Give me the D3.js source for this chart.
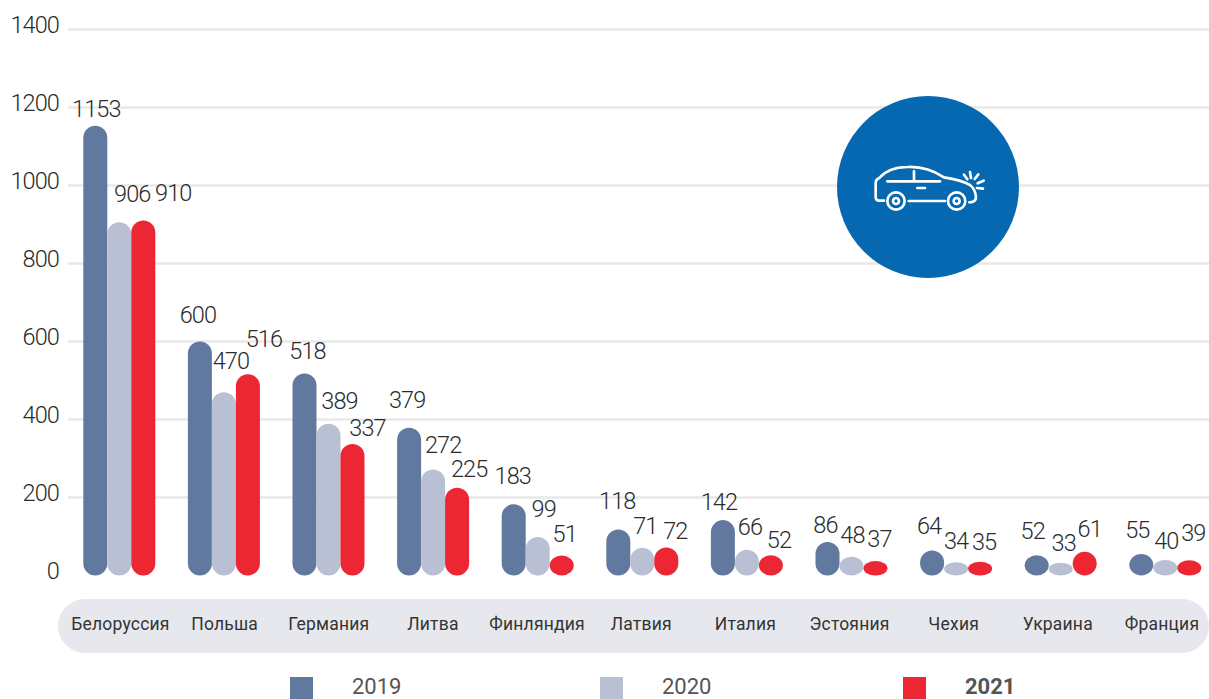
<!DOCTYPE html>
<html><head><meta charset="utf-8">
<script src="https://cdn.jsdelivr.net/npm/d3@7/dist/d3.min.js"></script>
<style>
html,body{margin:0;padding:0;background:#fff;overflow:hidden}
text{font-family:Roboto,sans-serif}
.num{font-size:23.5px;letter-spacing:-.9px;fill:#2b2b2b;font-weight:300}
.cat{font-size:17.5px;fill:#333;letter-spacing:.2px;font-weight:400}
.leg{font-size:22px;fill:#555;letter-spacing:0}
</style></head><body><svg id="c" width="1209" height="699"></svg>
<script>
const categories=["Белоруссия","Польша","Германия","Литва","Финляндия","Латвия","Италия","Эстояния","Чехия","Украина","Франция"];
const years=["2019","2020","2021"];
const v2019=[1153,600,518,379,183,118,142,86,64,52,55];
const v2020=[906,470,389,272,99,71,66,48,34,33,40];
const v2021=[910,516,337,225,51,72,52,37,35,61,39];
const yTicks=[0,200,400,600,800,1000,1200,1400];
const colors=["#61799f","#b9c0d4","#ec2632"];
// hand placement of the value labels relative to the top-centre of each bar
const nudge2019=[[1,-17],[-2,-27],[3,-22],[-2,-28],[-1,-28],[-1,-28],[-4,-18],[-2,-17],[-3,-25],[-4,-24],[-4,-24]];
const nudge2020=[[13,-28],[7,-31],[11,-23],[10,-24],[6,-28],[3,-22],[3,-23],[1,-22],[0,-21],[3,-20],[1,-19]];
const nudge2021=[[30,-28],[16,-35],[15,-16],[12,-19],[3,-22],[9,-16],[8,-15],[4,-22],[4,-20],[5,-23],[4,-27]];

const series=[v2019,v2020,v2021], nudges=[nudge2019,nudge2020,nudge2021];
const svg=d3.select("#c");
const y=d3.scaleLinear().domain([0,1400]).range([575.5,29.5]);
const x0=d3.scaleBand().domain(categories).range([67,1217.6]);
const x1=d3.scaleBand().domain(years).range([x0.bandwidth()/2-36,x0.bandwidth()/2+36]);
const xCat=d3.scalePoint().domain(categories).range([120.5,1162]);

// y axis + grid
const axis=svg.append("g").attr("transform","translate(68,0)")
  .call(d3.axisLeft(y).tickValues(yTicks).tickFormat(d3.format("d")).tickSize(0).tickPadding(9));
axis.select(".domain").remove();
axis.selectAll("text").attr("class","num").attr("font-family",null).attr("font-size",null).attr("dy",null)
  .attr("dominant-baseline","central").attr("y",-5);
svg.append("g").selectAll("line").data(yTicks.slice(1)).join("line")
  .attr("x1",68).attr("x2",1209).attr("y1",y).attr("y2",y)
  .attr("stroke","#e8e8e8").attr("stroke-width",2.6);

// icon
const icon=svg.append("g");
icon.append("circle").attr("cx",928).attr("cy",187).attr("r",91).attr("fill","#0568b0");
const car=icon.append("g").attr("transform","translate(820,90) scale(.3333)")
  .attr("fill","none").attr("stroke","#fff").attr("stroke-width",8).attr("stroke-linecap","round").attr("stroke-linejoin","round");
["M192 332H178Q167 332 167 320V280Q167 268 178 264Q205 232 262 231Q320 228 372 262Q425 270 450 285Q466 296 468 322Q468 337 448 337",
 "M266 333H375","M202 274H360","M282 244V272","M292 294H315",
 "M432 254L442 268","M450 246L453 264","M475 253L464 267","M491 272L473 280","M489 296L471 294"
].forEach(d=>car.append("path").attr("d",d));
[228,410].forEach(cx=>{
  car.append("circle").attr("cx",cx).attr("cy",333).attr("r",26);
  car.append("circle").attr("cx",cx).attr("cy",333).attr("r",9);
});

// bars
const groups=svg.append("g").selectAll("g").data(categories).join("g")
  .attr("transform",d=>`translate(${x0(d)},0)`);
years.forEach((yr,s)=>{
  groups.append("rect")
    .attr("x",x1(yr)).attr("width",x1.bandwidth())
    .attr("y",(d,i)=>y(series[s][i])).attr("height",(d,i)=>y(0)-y(series[s][i]))
    .attr("rx",12).attr("fill",colors[s]);
});
years.forEach((yr,s)=>{
  groups.append("text").attr("class","num").attr("text-anchor","middle").attr("dominant-baseline","central")
    .attr("x",(d,i)=>x1(yr)+x1.bandwidth()/2+nudges[s][i][0])
    .attr("y",(d,i)=>y(series[s][i])+nudges[s][i][1])
    .text((d,i)=>series[s][i]);
});

// category pill
svg.append("rect").attr("x",58).attr("y",599).attr("width",1151).attr("height",54).attr("rx",27).attr("fill","#e7e8ee");
svg.append("g").selectAll("text").data(categories).join("text").attr("class","cat")
  .attr("text-anchor","middle").attr("dominant-baseline","central")
  .attr("x",d=>xCat(d)).attr("y",623.5).text(d=>d);

// legend
const legX=d3.scaleOrdinal().domain(years).range([290,600,903]);
const leg=svg.append("g").selectAll("g").data(years).join("g").attr("transform",d=>`translate(${legX(d)},677)`);
leg.append("rect").attr("width",23).attr("height",23).attr("fill",(d,i)=>colors[i]);
leg.append("text").attr("class","leg").attr("x",62).attr("y",9).attr("dominant-baseline","central")
  .attr("font-weight",(d,i)=>i==2?700:400).text(d=>d);
</script></body></html>
